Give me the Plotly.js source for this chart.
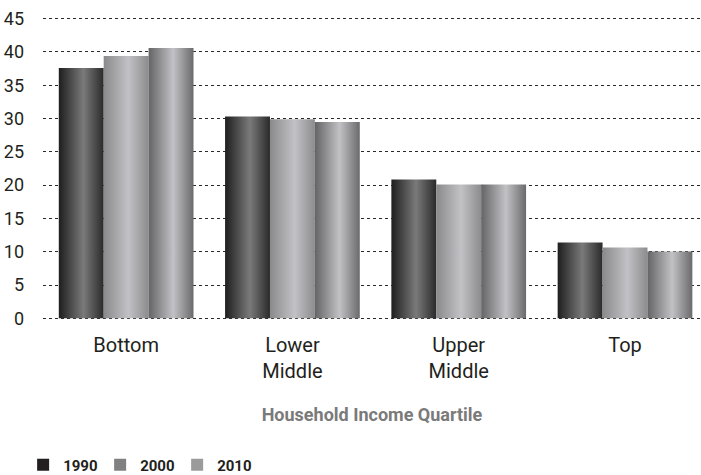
<!DOCTYPE html>
<html>
<head>
<meta charset="utf-8">
<script src="https://cdn.plot.ly/plotly-3.0.1.min.js"></script>
<style>html,body{margin:0;padding:0;background:#fff;}#chart{width:701px;height:475px;}</style>
</head>
<body>
<div id="chart"></div>
<script>
const categories = ["Bottom", "Lower<br>Middle", "Upper<br>Middle", "Top"];
const years = ["1990", "2000", "2010"];
const values1990 = [37.6, 30.3, 20.85, 11.4];
const values2000 = [39.4, 29.9, 20.1, 10.65];
const values2010 = [40.6, 29.5, 20.1, 10.05];
const yTicks = [0, 5, 10, 15, 20, 25, 30, 35, 40, 45];

const legendColors = ["#231f20", "#808080", "#9b9b9b"];
const gradStops = [
  [["0", "#1e1e1e"], ["0.55", "#7a7a7a"], ["1", "#2a2a2a"]],
  [["0", "#8a8a8c"], ["0.55", "#c2c2c6"], ["1", "#8c8c8e"]],
  [["0", "#646466"], ["0.55", "#c2c2c6"], ["1", "#6a6a6c"]]
];
const series = [values1990, values2000, values2010];

const font = "Roboto, Arial, sans-serif";
const traces = series.map((vals, i) => ({
  type: "bar",
  name: years[i],
  x: categories,
  y: vals,
  marker: { color: legendColors[i], line: { width: 0 } },
  hoverinfo: "none"
}));

const layout = {
  width: 701, height: 475,
  margin: { l: 43, r: 0, t: 17, b: 155 },
  paper_bgcolor: "#fff", plot_bgcolor: "#fff",
  barmode: "group", bargap: 0.19, bargroupgap: 0,
  font: { family: font, color: "#231f20", size: 18 },
  xaxis: {
    type: "category", range: [-0.5, 3.457],
    showgrid: false, zeroline: false, showline: false, ticks: "",
    tickfont: { family: font, size: 20, color: "#231f20" },
    ticklabelstandoff: 11,
    title: { text: "Household Income Quartile", font: { family: font, size: 18, color: "#7a7a7a", weight: "bold" }, standoff: 26 }
  },
  yaxis: {
    range: [-0.25, 45.25], tickvals: yTicks, ticktext: yTicks.map(String),
    showgrid: true, gridcolor: "#2a2a2a", griddash: "dot", gridwidth: 1,
    zeroline: false, showline: false, ticks: "",
    tickfont: { family: font, size: 18, color: "#231f20" },
    ticklabelstandoff: 18
  },
  showlegend: true,
  legend: {
    orientation: "h", xref: "container", yref: "container", x: 0.033, y: 0.021,
    xanchor: "left", yanchor: "middle",
    font: { family: font, size: 15, color: "#231f20", weight: "bold" },
    itemwidth: 30, tracegroupgap: 0, traceorder: "normal",
    entrywidth: 32, entrywidthmode: "pixels"
  }
};

Plotly.newPlot("chart", traces, layout, { staticPlot: true, displayModeBar: false }).then(gd => {
  const svg = gd.querySelector("svg.main-svg");
  const ns = "http://www.w3.org/2000/svg";
  let defs = svg.querySelector("defs");
  if (!defs) { defs = document.createElementNS(ns, "defs"); svg.insertBefore(defs, svg.firstChild); }
  gradStops.forEach((stops, i) => {
    const g = document.createElementNS(ns, "linearGradient");
    g.setAttribute("id", "barGrad" + i);
    g.setAttribute("x1", "0"); g.setAttribute("y1", "0");
    g.setAttribute("x2", "1"); g.setAttribute("y2", "0");
    stops.forEach(([off, col]) => {
      const s = document.createElementNS(ns, "stop");
      s.setAttribute("offset", off); s.setAttribute("stop-color", col);
      g.appendChild(s);
    });
    defs.appendChild(g);
  });
  gd.querySelectorAll(".barlayer .trace.bars").forEach((tr, i) => {
    tr.querySelectorAll("path").forEach(p => { p.style.fill = "url(#barGrad" + i + ")"; });
  });
});
</script>
</body>
</html>
